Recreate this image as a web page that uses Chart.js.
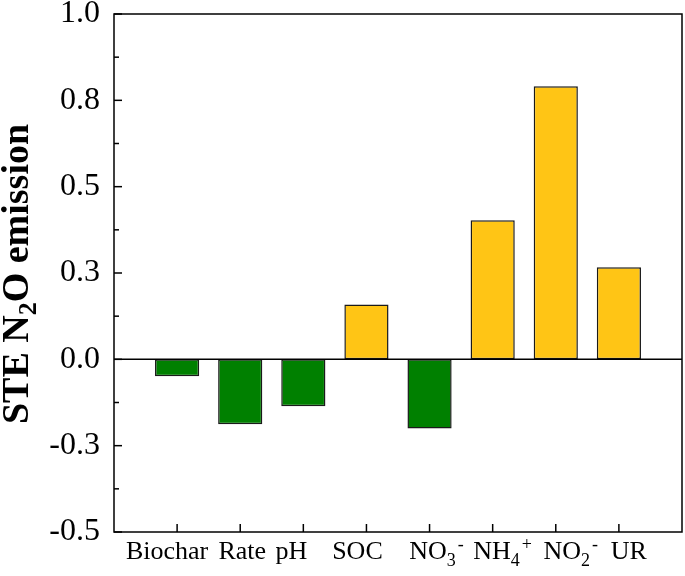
<!DOCTYPE html>
<html>
<head>
<meta charset="utf-8">
<script src="https://cdn.jsdelivr.net/npm/chart.js@4"></script>
<style>
  html, body { margin: 0; padding: 0; background: #fff; }
  #wrap { width: 685px; height: 576px; }
</style>
</head>
<body>
<div id="wrap"><canvas id="ste-chart"></canvas></div>
<script>
// categories use _ for subscript and ^ for superscript
var categories = ['Biochar', 'Rate', 'pH', 'SOC', 'NO_3^-', 'NH_4^+', 'NO_2^-', 'UR'];
var steValues = [-0.049, -0.188, -0.136, 0.159, -0.2, 0.403, 0.791, 0.267];
var barColors = ['#008000', '#008000', '#008000', '#FFC515', '#008000', '#FFC515', '#FFC515', '#FFC515'];
var yMin = -0.5, yMax = 1.0, yMinorStep = 0.125;

// the original labels are nudged off their ticks a little
var labelNudge = [-10, 2, -12, -9, 7, 10, 15, 10];

// blank slot on each side so the bars sit one category in from the frame
var labels = [''].concat(categories, ['']);
var data = [null].concat(steValues, [null]);
var colors = ['#fff'].concat(barColors, ['#fff']);

var SERIF = '"Liberation Serif", "Times New Roman", serif';

function drawRich(ctx, text, x, y, size) {
    // split "NO_3^-" into parts with sub/superscripts
    var parts = [];
    var re = /([_^])(.)|([^_^]+)/g, m;
    while ((m = re.exec(text)) !== null) {
        if (m[3]) parts.push({ t: m[3], k: 'n' });
        else parts.push({ t: m[2], k: m[1] === '_' ? 'sub' : 'sup' });
    }
    var small = Math.round(size * 0.68);
    var width = 0;
    parts.forEach(function(p) {
        ctx.font = (p.k === 'n' ? size : small) + 'px ' + SERIF;
        p.w = ctx.measureText(p.t).width + (p.k === 'sup' ? 2 : 0);
        width += p.w;
    });
    var cx = x - width / 2;
    ctx.textAlign = 'left';
    ctx.textBaseline = 'alphabetic';
    parts.forEach(function(p) {
        ctx.font = (p.k === 'n' ? size : small) + 'px ' + SERIF;
        var dy = p.k === 'sub' ? size * 0.28 : (p.k === 'sup' ? -size * 0.36 : 0);
        ctx.fillText(p.t, cx + (p.k === 'sup' ? 2 : 0), y + dy);
        cx += p.w;
    });
}

var framePlugin = {
    id: 'frame',
    afterDatasetsDraw: function(chart) {
        var ctx = chart.ctx, a = chart.chartArea;
        var x = chart.scales.x, y = chart.scales.y;
        ctx.save();
        ctx.strokeStyle = '#000';
        ctx.lineWidth = 1.5;

        // zero line
        var y0 = y.getPixelForValue(0);
        ctx.beginPath();
        ctx.moveTo(a.left, y0);
        ctx.lineTo(a.right, y0);
        ctx.stroke();

        // frame
        ctx.strokeRect(a.left, a.top, a.right - a.left, a.bottom - a.top);

        // inward y ticks, long on labelled values
        y.ticks.forEach(function(t) {
            var py = y.getPixelForValue(t.value);
            var major = Math.abs(t.value * 4 - Math.round(t.value * 4)) < 1e-6;
            ctx.beginPath();
            ctx.moveTo(a.left, py);
            ctx.lineTo(a.left + (major ? 8 : 5), py);
            ctx.stroke();
        });

        // inward x ticks at categories
        for (var i = 1; i <= categories.length; i++) {
            var px = x.getPixelForTick(i);
            ctx.beginPath();
            ctx.moveTo(px, a.bottom);
            ctx.lineTo(px, a.bottom - 8);
            ctx.stroke();
        }

        // category labels
        ctx.fillStyle = '#000';
        for (var j = 1; j <= categories.length; j++) {
            drawRich(ctx, labels[j], x.getPixelForTick(j) + labelNudge[j - 1], a.bottom + 27, 26);
        }

        // y title
        ctx.translate(28, (a.top + a.bottom) / 2 + 1);
        ctx.rotate(-Math.PI / 2);
        var size = 38, small = 26;
        var segs = [['STE N', size], ['2', small], ['O emission', size]];
        var total = 0;
        segs.forEach(function(s) {
            ctx.font = 'bold ' + s[1] + 'px ' + SERIF;
            total += ctx.measureText(s[0]).width;
        });
        var cx = -total / 2;
        ctx.textBaseline = 'alphabetic';
        segs.forEach(function(s) {
            ctx.font = 'bold ' + s[1] + 'px ' + SERIF;
            ctx.fillText(s[0], cx, s[1] === small ? 8 : 0);
            cx += ctx.measureText(s[0]).width;
        });
        ctx.restore();
    }
};

new Chart(document.getElementById('ste-chart').getContext('2d'), {
    type: 'bar',
    data: {
        labels: labels,
        datasets: [{
            data: data,
            backgroundColor: colors,
            borderColor: '#1a1a1a',
            borderWidth: 1.5,
            borderSkipped: false,
            barPercentage: 0.7,
            categoryPercentage: 1
        }]
    },
    options: {
        responsive: true,
        maintainAspectRatio: false,
        animation: false,
        layout: { padding: { top: 14, right: 3, left: 0, bottom: 0 } },
        plugins: {
            legend: { display: false },
            tooltip: { enabled: false }
        },
        scales: {
            x: {
                offset: false,
                grid: { display: false, drawTicks: false },
                border: { display: false },
                ticks: { display: false },
                afterFit: function(s) {
                    s.height = 44;
                    s.paddingLeft = 0;
                    s.paddingRight = 0;
                }
            },
            y: {
                min: yMin,
                max: yMax,
                grid: { display: false, drawTicks: false },
                border: { display: false },
                ticks: {
                    stepSize: yMinorStep,
                    autoSkip: false,
                    padding: 14,
                    color: '#000',
                    font: { family: SERIF, size: 32 },
                    callback: function(v) {
                        var q = v * 4;
                        return Math.abs(q - Math.round(q)) < 1e-6 ? v.toFixed(1) : '';
                    }
                },
                afterFit: function(s) {
                    s.width = 114;
                    s.paddingTop = 0;
                    s.paddingBottom = 0;
                }
            }
        }
    },
    plugins: [framePlugin]
});
</script>
</body>
</html>
